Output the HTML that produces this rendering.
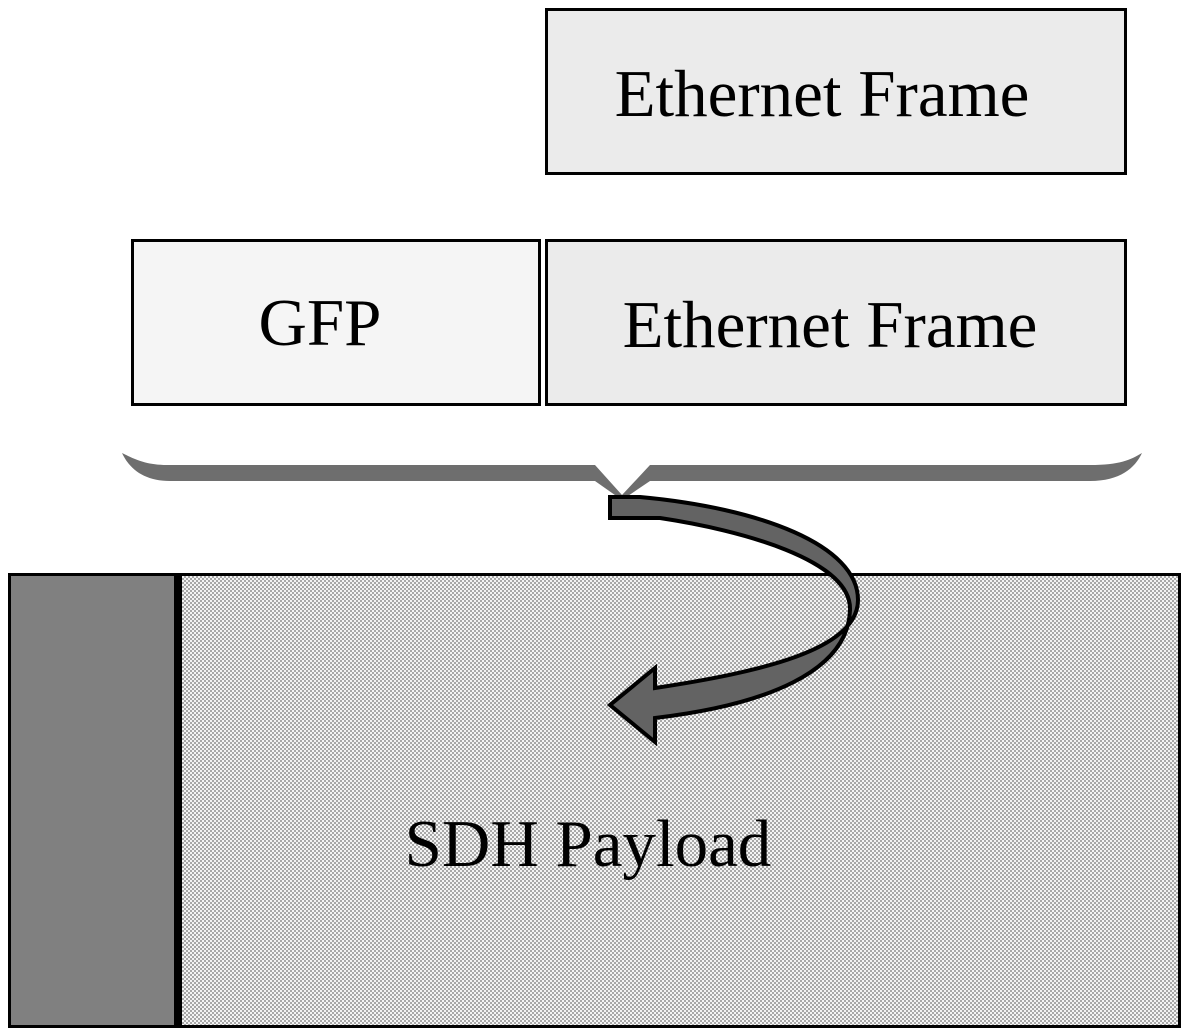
<!DOCTYPE html>
<html><head><style>
html,body{margin:0;padding:0;background:#fff;}
</style></head><body>
<svg width="1185" height="1033" xmlns="http://www.w3.org/2000/svg" style="display:block">
<defs>
<pattern id="chk" width="4" height="4" patternUnits="userSpaceOnUse">
<rect width="4" height="4" fill="#f4f4f4"/>
<rect width="2" height="2" fill="#a8a8a8"/>
<rect x="2" y="2" width="2" height="2" fill="#a8a8a8"/>
</pattern>
</defs>
<g font-family="Liberation Serif, serif" font-size="67" fill="#000">
<rect x="546.5" y="9.5" width="579" height="164" fill="#ebebeb" stroke="#000" stroke-width="3"/>
<text x="822" y="116" text-anchor="middle">Ethernet Frame</text>
<rect x="132.5" y="240.5" width="407" height="164" fill="#f5f5f5" stroke="#000" stroke-width="3"/>
<text x="320" y="345" text-anchor="middle">GFP</text>
<rect x="546.5" y="240.5" width="579" height="164" fill="#ebebeb" stroke="#000" stroke-width="3"/>
<text x="830" y="347" text-anchor="middle">Ethernet Frame</text>
<!-- brace -->
<path d="M122,453 C140,462 150,465 170,465 L595,465 L622,495 L650,465 L1090,465 C1120,465 1130,460 1142,453 C1135,468 1120,481 1090,481 L650,481 L622,500 L595,481 L170,481 C145,481 130,470 122,453 Z" fill="#6e6e6e"/>
<!-- SDH -->
<rect x="9.5" y="574.5" width="1170" height="452" fill="url(#chk)" stroke="#000" stroke-width="3"/>
<rect x="11" y="576" width="166" height="449" fill="#808080"/>
<rect x="174" y="576" width="8" height="449" fill="#000"/>
<text x="588" y="866" text-anchor="middle">SDH Payload</text>
<!-- arrow -->
<path d="M610,497 L640,497 C760,508 858,545 858,600 C858,650 760,672 655,688 L655,668 L610,705 L655,742 L655,718 C765,705 848,672 850,610 C852,560 740,530 660,518 L610,518 Z" fill="#636363" stroke="#000" stroke-width="4" stroke-linejoin="miter"/>
</g>
</svg>
</body></html>
